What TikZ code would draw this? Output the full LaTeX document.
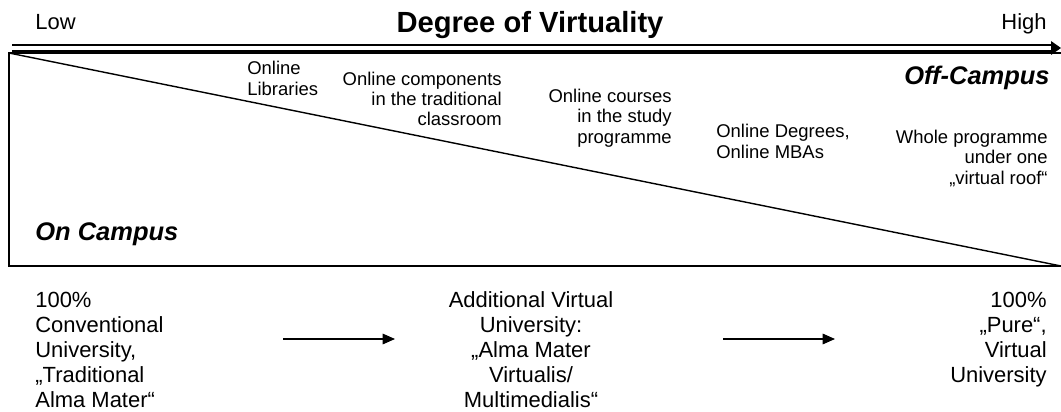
\documentclass[tikz,border=0pt]{standalone}
\usepackage{fontspec}
\setmainfont{Liberation Sans}
\usetikzlibrary{arrows.meta}

\begin{document}
\begin{tikzpicture}[x=0.02cm,y=-0.02cm,
    lbl/.style={inner sep=0pt,font=\fontsize{10.5}{11.4}\selectfont},
    uni/.style={inner sep=0pt,font=\fontsize{12.5}{14.2}\selectfont},
    campus/.style={inner sep=0pt,font=\fontsize{14.5}{16}\selectfont\bfseries\itshape},
    flow/.style={-{Triangle[length=7pt,width=6pt]},line width=0.7pt}]
  \useasboundingbox (0,0) rectangle (1061,412);
  % scale of virtuality
  \node[uni,anchor=base west] (low) at (35,30) {Low};
  \node[inner sep=0pt,anchor=base,font=\fontsize{16.6}{19}\selectfont\bfseries] (title) at (530,33) {Degree of Virtuality};
  \node[uni,anchor=base east] (high) at (1047,30) {High};
  \coordinate (axL) at (12,48);
  \coordinate (axR) at (1052,48);
  \draw[line width=0.9pt,double,double distance=2.2pt] (axL)--(axR);
  \fill (1051,41)--(1061,48)--(1051,55)--cycle;
  % campus box and its diagonal
  \draw[line width=0.8pt] (1061,53)--(9,53)--(9,266)--(1061,266);
  \draw[line width=0.8pt] (9,53)--(1061,266);
  % base anchor = last line of a block
  \node[lbl,anchor=base west,align=left] (olib) at (247,95) {Online\\Libraries};
  \node[lbl,anchor=base east,align=right] (ocomp) at (502,126) {Online components\\in the traditional\\classroom};
  \node[lbl,anchor=base east,align=right] (ocour) at (672,143) {Online courses\\in the study\\programme};
  \node[lbl,anchor=base west,align=left] (odeg) at (716,158) {Online Degrees,\\Online MBAs};
  \node[campus,anchor=base east] (offc) at (1050,85) {Off-Campus};
  \node[lbl,anchor=base east,align=right] (whole) at (1048,184) {Whole programme\\under one\\„virtual roof“};
  \node[campus,anchor=base west] (onc) at (35,240) {On Campus};
  % kinds of university
  \node[uni,anchor=base west,align=left] (conv) at (35,407) {100\%\\Conventional\\University,\\„Traditional\\Alma Mater“};
  \node[uni,anchor=base,align=center] (addv) at (531,407) {Additional Virtual\\University:\\„Alma Mater\\Virtualis/\\Multimedialis“};
  \node[uni,anchor=base east,align=right] (pure) at (1047,382) {100\%\\„Pure“,\\Virtual\\University};
  \coordinate (f1a) at (283,339);
  \coordinate (f1b) at (395,339);
  \coordinate (f2a) at (723,339);
  \coordinate (f2b) at (835,339);
  \draw[flow] (f1a)--(f1b);
  \draw[flow] (f2a)--(f2b);
\end{tikzpicture}
\end{document}
